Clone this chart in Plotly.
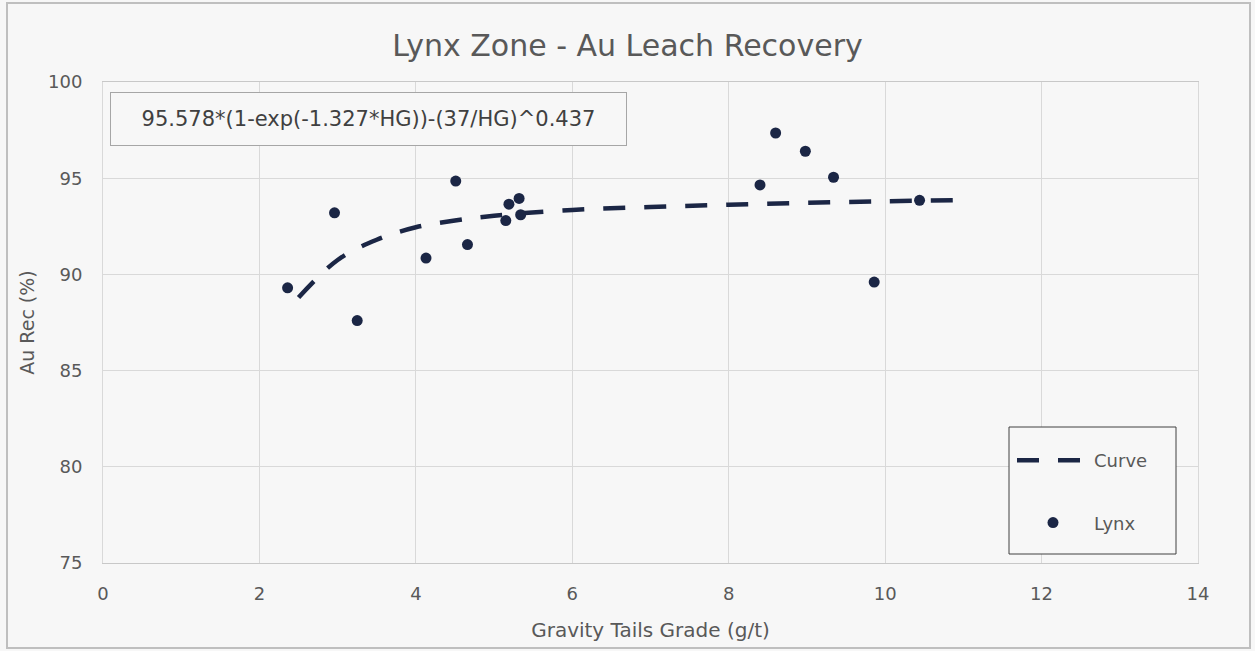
import plotly.graph_objects as go

# Lynx sample points
lynx_x = [2.36, 2.96, 3.25, 4.13, 4.51, 4.66, 5.15, 5.19, 5.32, 5.34, 8.40, 8.60, 8.98, 9.34, 9.86, 10.44]
lynx_y = [89.3, 93.2, 87.6, 90.85, 94.85, 91.55, 92.8, 93.65, 93.95, 93.1, 94.65, 97.35, 96.4, 95.05, 89.6, 93.85]

# Fitted curve
curve_x = [2.5, 3.0, 3.5, 4.0, 4.5, 5.0, 6.0, 7.0, 8.0, 9.0, 10.0, 11.0]
curve_y = [88.8, 90.75, 91.8, 92.45, 92.8, 93.05, 93.35, 93.5, 93.62, 93.72, 93.8, 93.86]

x_ticks = [0, 2, 4, 6, 8, 10, 12, 14]
y_ticks = [75, 80, 85, 90, 95, 100]

title_text = "Lynx Zone - Au Leach Recovery"
x_title = "Gravity Tails Grade (g/t)"
y_title = "Au Rec (%)"
equation = "95.578*(1-exp(-1.327*HG))-(37/HG)^0.437"

NAVY = "#1b2645"
BG = "#f7f7f7"
GRID = "#d9d9d9"
TXT = "#595959"
FONT = "DejaVu Sans"

W, H = 1255, 651
L, R, T, B = 103, 57, 82, 88
pw, ph = W - L - R, H - T - B

def px_x(p):
    return (p - L) / pw

def px_y(p):
    return (H - B - p) / ph

fig = go.Figure()
fig.add_trace(go.Scatter(
    x=curve_x, y=curve_y, mode="lines", name="Curve",
    line=dict(color=NAVY, width=4.5, dash="22px,19px", shape="spline"),
    legendgroup="a",
))
fig.add_trace(go.Scatter(
    x=lynx_x, y=lynx_y, mode="markers", name="Lynx",
    marker=dict(color=NAVY, size=11),
    legendgroup="b",
))

fig.update_layout(
    width=W, height=H,
    margin=dict(l=L, r=R, t=T, b=B),
    paper_bgcolor=BG, plot_bgcolor=BG,
    font=dict(family=FONT, color=TXT, size=18),
    title=dict(text=title_text, x=0.5, xanchor="center", y=1 - 45 / H, yanchor="middle",
               font=dict(size=30, color=TXT, family=FONT)),
    showlegend=True,
    legend=dict(
        x=px_x(1012), y=px_y(442), xanchor="left", yanchor="top",
        bgcolor="rgba(0,0,0,0)", borderwidth=0,
        font=dict(size=18, color=TXT, family=FONT),
        traceorder="grouped", tracegroupgap=36, itemwidth=72,
    ),
    xaxis=dict(
        range=[0, 14], tickvals=x_ticks, showgrid=True, gridcolor=GRID, gridwidth=1,
        zeroline=False, showline=True, linecolor="#c8c8c8", linewidth=1, mirror=True,
        ticks="outside", ticklen=14, tickcolor="rgba(0,0,0,0)",
        tickfont=dict(size=18, color=TXT),
        title=dict(text=x_title, font=dict(size=20, color=TXT), standoff=20),
    ),
    yaxis=dict(
        range=[75, 100], tickvals=y_ticks, showgrid=True, gridcolor=GRID, gridwidth=1,
        zeroline=False, showline=True, linecolor=GRID, linewidth=1, mirror=True,
        ticks="outside", ticklen=16, tickcolor="rgba(0,0,0,0)",
        tickfont=dict(size=18, color=TXT),
        title=dict(text=y_title, font=dict(size=19, color=TXT), standoff=8),
    ),
    shapes=[
        # outer chart border
        dict(type="rect", xref="paper", yref="paper",
             x0=px_x(7), x1=px_x(1250), y0=px_y(648), y1=px_y(3),
             line=dict(color="#bfbfbf", width=2), fillcolor="rgba(0,0,0,0)", layer="below"),
        # legend box
        dict(type="rect", xref="paper", yref="paper",
             x0=px_x(1009), x1=px_x(1176), y0=px_y(554), y1=px_y(427),
             line=dict(color="#404040", width=1), fillcolor=BG, layer="above"),
    ],
    annotations=[
        dict(text=equation, xref="paper", yref="paper",
             x=px_x(368.5), y=px_y(119), xanchor="center", yanchor="middle",
             showarrow=False, font=dict(size=21, color="#404040", family=FONT),
             bordercolor="#a6a6a6", borderwidth=1, bgcolor=BG,
             width=513, height=50),
    ],
)

fig.write_html("out.html", config={"displayModeBar": False},
               post_script="document.body.style.margin='0';")
